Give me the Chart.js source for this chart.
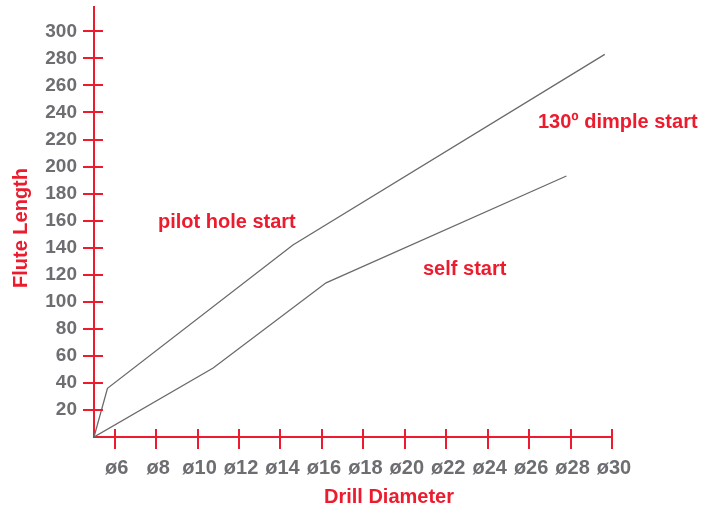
<!DOCTYPE html>
<html>
<head>
<meta charset="utf-8">
<script src="https://cdn.jsdelivr.net/npm/chart.js@4/dist/chart.umd.min.js"></script>
<style>
  html, body { margin: 0; padding: 0; background: #ffffff; }
  #wrap { width: 703px; height: 509px; }
</style>
</head>
<body>
<div id="wrap"><canvas id="c" width="703" height="509"></canvas></div>
<script>
// ---- data ----
const xTickValues = [6, 8, 10, 12, 14, 16, 18, 20, 22, 24, 26, 28, 30];
const yTickValues = [20, 40, 60, 80, 100, 120, 140, 160, 180, 200, 220, 240, 260, 280, 300];
const pilotX = [5, 5.65, 14.6, 29.65];
const pilotY = [0, 36, 142, 283];
const selfX = [5, 10.75, 16.2, 27.8];
const selfY = [0, 51, 114, 193];
const xTitle = 'Drill Diameter';
const yTitle = 'Flute Length';
const labelPilot = 'pilot hole start';
const labelSelf = 'self start';
const labelDimple = '130º dimple start';

// ---- styles ----
const RED = '#ec1c2e';
const GRAY = '#6d6e71';
const LINE = '#6a6a6a';
const FONT = '"Liberation Sans", Arial, sans-serif';

const toPts = (xs, ys) => xs.map((x, i) => ({ x: x, y: ys[i] }));

const crossTicks = {
  id: 'crossTicks',
  afterDraw(chart) {
    const ctx = chart.ctx;
    const xs = chart.scales.x, ys = chart.scales.y;
    const x0 = xs.left, y0 = ys.bottom;
    ctx.save();
    ctx.strokeStyle = RED;
    ctx.lineWidth = 2;
    ctx.beginPath();
    yTickValues.forEach(v => {
      const p = Math.round(ys.getPixelForValue(v));
      ctx.moveTo(x0 - 11, p);
      ctx.lineTo(x0 + 9, p);
    });
    xTickValues.forEach(v => {
      const p = Math.round(xs.getPixelForValue(v));
      ctx.moveTo(p, y0 - 8);
      ctx.lineTo(p, y0 + 12);
    });
    ctx.stroke();

    ctx.fillStyle = RED;
    ctx.font = 'bold 20px ' + FONT;
    ctx.textBaseline = 'alphabetic';
    ctx.textAlign = 'left';
    ctx.fillText(labelPilot, 158, 228);
    ctx.fillText(labelSelf, 423, 275);
    ctx.fillText(labelDimple, 538, 128);
    ctx.textAlign = 'center';
    ctx.fillText(xTitle, 389, 503);
    ctx.translate(27, 228);
    ctx.rotate(-Math.PI / 2);
    ctx.fillText(yTitle, 0, 0);
    ctx.restore();
  }
};

new Chart(document.getElementById('c'), {
  type: 'line',
  data: {
    datasets: [
      { label: labelPilot, data: toPts(pilotX, pilotY), borderColor: LINE, borderWidth: 1.3, pointRadius: 0, tension: 0, fill: false },
      { label: labelSelf, data: toPts(selfX, selfY), borderColor: LINE, borderWidth: 1.3, pointRadius: 0, tension: 0, fill: false }
    ]
  },
  options: {
    responsive: false,
    animation: false,
    devicePixelRatio: 1,
    layout: { padding: { left: 0, right: 91, top: 7, bottom: 0 } },
    plugins: { legend: { display: false }, tooltip: { enabled: false } },
    scales: {
      x: {
        type: 'linear', min: 5, max: 30,
        afterBuildTicks: s => { s.ticks = xTickValues.map(v => ({ value: v })); },
        afterFit: s => { s.height = 72; s.paddingLeft = 0; s.paddingRight = 0; },
        grid: { drawOnChartArea: false, drawTicks: false },
        border: { display: true, color: RED, width: 2 },
        ticks: { callback: v => 'ø' + v, color: GRAY, font: { family: FONT, size: 20, weight: 'bold' }, padding: 19, labelOffset: 2, maxRotation: 0, autoSkip: false }
      },
      y: {
        type: 'linear', min: 0, max: 318,
        afterBuildTicks: s => { s.ticks = yTickValues.map(v => ({ value: v })); },
        afterFit: s => { s.width = 94; s.paddingTop = 0; s.paddingBottom = 0; },
        grid: { drawOnChartArea: false, drawTicks: false },
        border: { display: true, color: RED, width: 2 },
        ticks: { color: GRAY, font: { family: FONT, size: 19, weight: 'bold' }, padding: 17, autoSkip: false }
      }
    }
  },
  plugins: [crossTicks]
});
</script>
</body>
</html>
